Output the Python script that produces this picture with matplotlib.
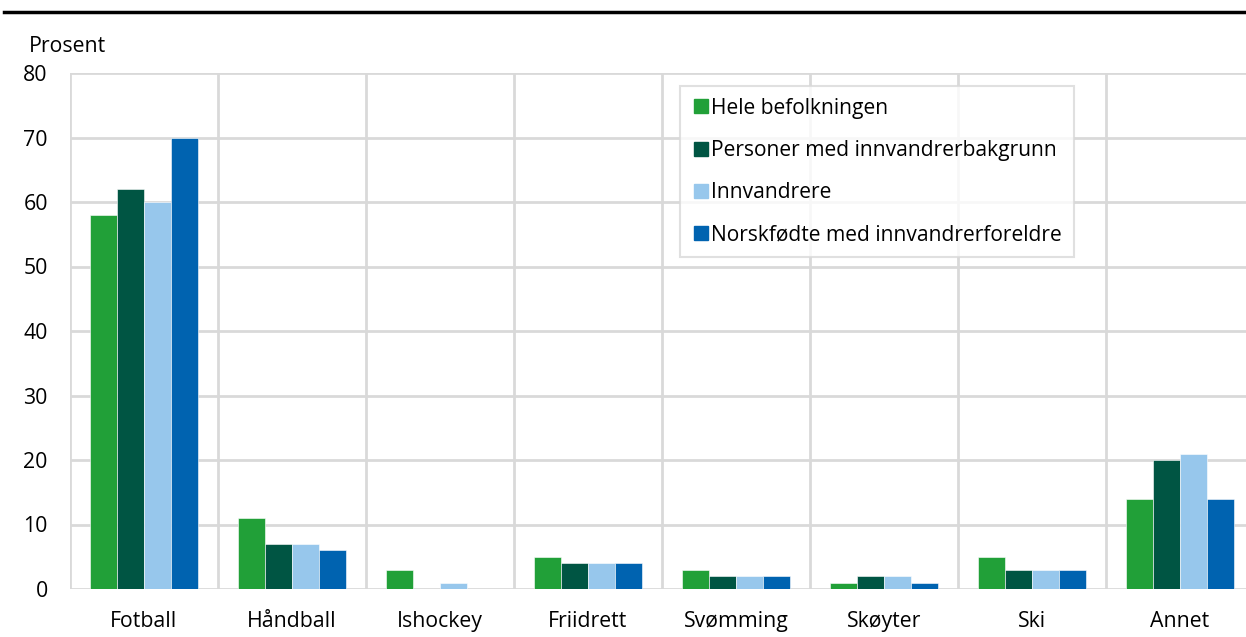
import matplotlib
matplotlib.use("Agg")
import matplotlib.pyplot as plt
import numpy as np
from matplotlib.lines import Line2D

plt.rcParams['font.family'] = ['Open Sans', 'DejaVu Sans']

categories = ["Fotball", "Håndball", "Ishockey", "Friidrett", "Svømming", "Skøyter", "Ski", "Annet"]
series_names = ["Hele befolkningen", "Personer med innvandrerbakgrunn", "Innvandrere",
                "Norskfødte med innvandrerforeldre"]
hele = [58, 11, 3, 5, 3, 1, 5, 14]
innv_bakgrunn = [62, 7, 0, 4, 2, 2, 3, 20]
innvandrere = [60, 7, 1, 4, 2, 2, 3, 21]
norskfodte = [70, 6, 0, 4, 2, 1, 3, 14]
yticks = [0, 10, 20, 30, 40, 50, 60, 70, 80]

colors = ["#21a038", "#005543", "#97c7ec", "#0063b0"]
series = [hele, innv_bakgrunn, innvandrere, norskfodte]

W, H = 1246, 637
fig = plt.figure(figsize=(W / 100, H / 100), dpi=100)
ax = fig.add_axes([70 / W, 1 - 589 / H, (1254 - 70) / W, (589 - 73) / H])

x = np.arange(len(categories))
bw = 0.182
for i, (vals, c) in enumerate(zip(series, colors)):
    ax.bar(x + (i - 1.5) * bw, vals, width=bw, color=c, edgecolor="white",
           linewidth=0.4, zorder=3)

ax.set_xlim(-0.5, len(categories) - 0.5)
ax.set_ylim(0, 80)
ax.set_yticks(yticks)
ax.set_xticks(x)
ax.set_xticklabels(categories, fontsize=15.3)
ax.set_xticks(np.arange(-0.5, len(categories), 1), minor=True)
ax.tick_params(axis='y', labelsize=15.3, length=0, pad=16)
ax.tick_params(axis='x', which='both', length=0, pad=16)

grid_c = "#d9d9d9"
ax.grid(axis='y', color=grid_c, linewidth=2, zorder=0)
ax.grid(axis='x', which='minor', color=grid_c, linewidth=2, zorder=0)
ax.grid(axis='x', which='major', visible=False)
for s in ax.spines.values():
    s.set_visible(False)

fig.text(29 / W, 1 - 46 / H, "Prosent", fontsize=15.3, va='center', ha='left')

# top rule
fig.add_artist(Line2D([4 / W, 1.0], [1 - 12 / H, 1 - 12 / H], color="black", linewidth=2.5))

handles = [Line2D([], [], marker='s', linestyle='none', markersize=10,
                  markerfacecolor=c, markeredgecolor=c) for c in colors]
leg = fig.legend(handles, series_names, loc='upper left',
                 bbox_to_anchor=(680 / W, 1 - 86 / H), fontsize=15.1,
                 frameon=True, fancybox=False, labelspacing=1.02,
                 handletextpad=0.05, handlelength=0.9, borderpad=0.55,
                 borderaxespad=0)
leg.get_frame().set_edgecolor(grid_c)
leg.get_frame().set_linewidth(1.5)

fig.savefig("out.png", dpi=100)
